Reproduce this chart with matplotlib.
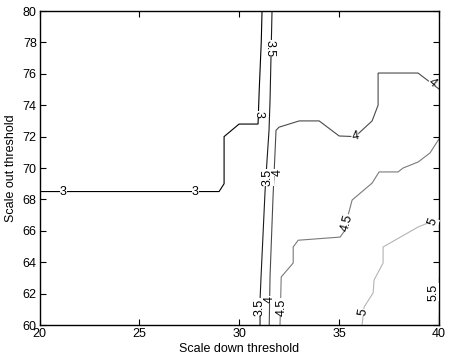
import matplotlib
matplotlib.use("Agg")
import matplotlib.pyplot as plt

plt.rcParams['font.family'] = ['Liberation Sans', 'DejaVu Sans']

# contour lines (data coordinates)
c3_x = [20.0, 28.99, 29.24, 29.24, 29.99, 30.94, 31.0, 31.1, 31.14]
c3_y = [68.5, 68.5, 69.0, 72.0, 72.8, 72.8, 75.0, 78.0, 80.0]

c35_x = [31.64, 31.54, 31.49, 31.39, 31.29, 31.09, 31.04, 31.04]
c35_y = [80.0, 74.3, 72.4, 70.5, 68.5, 63.06, 61.6, 60.0]

c4_x = [31.5, 31.54, 31.69, 31.84, 31.99, 33.0, 34.0, 35.0, 35.8, 36.65, 36.95, 36.95, 38.95, 40.0]
c4_y = [60.0, 63.06, 68.15, 72.4, 72.6, 73.0, 73.0, 72.04, 72.0, 73.0, 74.0, 76.05, 76.05, 75.03]

c45_x = [32.04, 32.1, 32.7, 32.7, 32.95, 35.05, 35.3, 35.45, 35.65, 36.65, 37.0, 37.95, 38.2, 38.95, 39.55, 39.9, 40.0]
c45_y = [60.0, 63.06, 63.95, 64.97, 65.4, 65.6, 66.05, 67.0, 67.96, 69.04, 69.75, 69.75, 70.0, 70.38, 70.96, 71.66, 71.85]

c5_x = [36.15, 36.25, 36.7, 36.75, 37.2, 37.2, 38.95, 39.45, 40.0]
c5_y = [60.0, 61.15, 62.04, 62.87, 63.95, 64.97, 66.24, 66.5, 66.75]

c55_x = [39.95, 40.0, 40.0]
c55_y = [60.0, 61.0, 63.0]

levels = ["3", "3.5", "4", "4.5", "5", "5.5"]
line_colors = ["#000000", "#1c1c1c", "#4a4a4a", "#7a7a7a", "#b4b4b4", "#dcdcdc"]

# contour labels: text, x, y, rotation
lab_text = ["3", "3", "3", "3.5", "3.5", "3.5", "4", "4", "4", "4", "4.5", "4.5", "5", "5", "5.5"]
lab_x = [21.2, 27.8, 30.99, 31.54, 31.42, 31.04, 31.92, 31.54, 35.8, 39.65, 32.14, 35.4, 36.2, 39.7, 39.7]
lab_y = [68.5, 68.5, 73.4, 77.6, 69.4, 61.15, 69.7, 61.6, 72.0, 75.4, 61.15, 66.5, 60.8, 66.6, 62.1]
lab_rot = [0, 0, -90, -90, 90, 90, 90, 90, 10, -40, 90, 75, 80, 70, 90]

fig = plt.figure(figsize=(4.5, 3.6), dpi=100)
ax = fig.add_axes([0.0878, 0.0972, 0.8878, 0.8722])

lines = [(c3_x, c3_y), (c35_x, c35_y), (c4_x, c4_y), (c45_x, c45_y), (c5_x, c5_y), (c55_x, c55_y)]
for (xs, ys), col in zip(lines, line_colors):
    ax.plot(xs, ys, color=col, lw=0.8, solid_joinstyle='miter')

for t, x, y, r in zip(lab_text, lab_x, lab_y, lab_rot):
    ax.text(x, y, t, rotation=r, ha='center', va='center', fontsize=9, color='black',
            rotation_mode='anchor',
            bbox=dict(facecolor='white', edgecolor='none', pad=0.1))

ax.set_xlim(20, 40)
ax.set_ylim(60, 80)
ax.set_xticks([20, 25, 30, 35, 40])
ax.set_yticks(list(range(60, 81, 2)))
ax.tick_params(direction='in', length=4, width=0.8, labelsize=9, top=True, right=True, pad=2)
for s in ax.spines.values():
    s.set_linewidth(1.0)
ax.set_xlabel("Scale down threshold", fontsize=9, labelpad=2.5)
ax.set_ylabel("Scale out threshold", fontsize=9, labelpad=4)

fig.savefig("out.png", dpi=100)
